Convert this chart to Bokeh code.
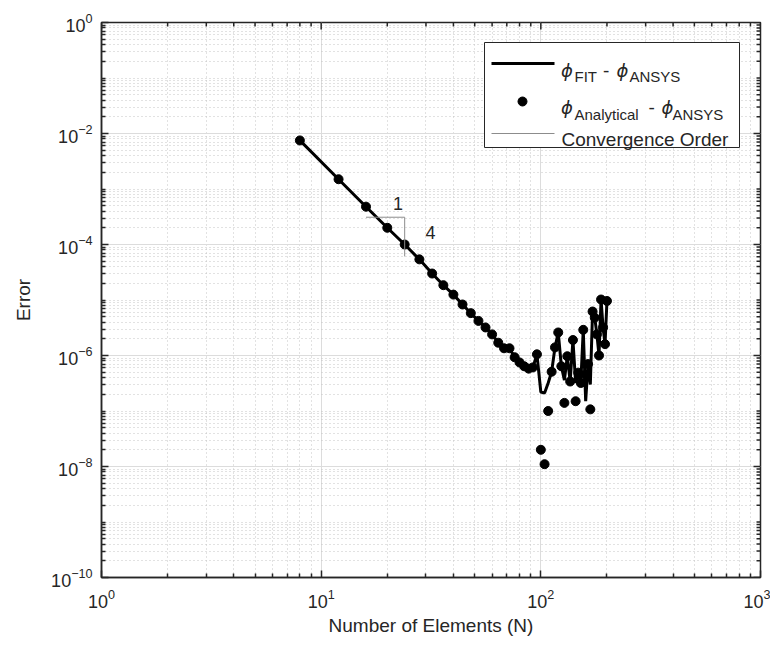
from bokeh.plotting import figure
from bokeh.models import Range1d, LinearScale, FixedTicker, ColumnDataSource
from bokeh.core.properties import value
from bokeh.embed import file_html
from bokeh.resources import INLINE

# ---- data ----
N = [8, 12, 16, 20, 24, 28, 32, 36, 40, 44, 48, 52, 56, 60, 64, 68, 72, 76, 80, 84, 88, 92, 96,
     100, 104, 108, 112, 116, 120, 124, 128, 132, 136, 140, 144, 148, 152, 156, 160, 164, 168,
     172, 176, 180, 184, 188, 192, 196, 200]
err_fit = [7.5e-3, 1.5e-3, 4.8e-4, 2.0e-4, 1.0e-4, 5.4e-5, 3.0e-5, 1.85e-5, 1.25e-5, 8.3e-6,
           5.8e-6, 4.2e-6, 3.2e-6, 2.4e-6, 1.7e-6, 1.35e-6, 1.35e-6, 9.3e-7, 7.5e-7, 6.4e-7,
           5.8e-7, 6.1e-7, 1.05e-6,
           2.2e-7, 2.1e-7, 3.2e-7, 5.1e-7, 1.4e-6, 2.6e-6, 6.4e-7, 3.6e-7, 9.7e-7, 3.4e-7,
           1.9e-6, 3.2e-7, 4.9e-7, 3.2e-7, 2.9e-6, 1.5e-7, 7.0e-7, 3.0e-7, 6.2e-6, 4.8e-6,
           2.4e-6, 1.0e-6, 1.02e-5, 3.2e-6, 1.6e-6, 9.6e-6]
err_analytical = [7.5e-3, 1.5e-3, 4.8e-4, 2.0e-4, 1.0e-4, 5.4e-5, 3.0e-5, 1.85e-5, 1.25e-5, 8.3e-6,
                  5.8e-6, 4.2e-6, 3.2e-6, 2.4e-6, 1.7e-6, 1.35e-6, 1.35e-6, 9.3e-7, 7.5e-7, 6.4e-7,
                  5.8e-7, 6.1e-7, 1.05e-6,
                  2.0e-8, 1.1e-8, 1.0e-7, 5.1e-7, 1.4e-6, 2.6e-6, 6.4e-7, 1.4e-7, 9.7e-7, 3.4e-7,
                  1.9e-6, 1.5e-7, 4.9e-7, 3.2e-7, 2.9e-6, 4.5e-7, 7.0e-7, 1.07e-7, 6.2e-6, 4.8e-6,
                  2.4e-6, 1.0e-6, 1.02e-5, 3.2e-6, 1.6e-6, 9.6e-6]
order_x = [16, 24, 24]
order_y = [3.1e-4, 3.1e-4, 6.1e-5]
x_ticks = [1, 10, 100, 1000]
y_ticks = [1e-10, 1e-8, 1e-6, 1e-4, 1e-2, 1]
x_minor = [k * 10.0 ** e for e in range(0, 3) for k in range(2, 10)]
y_minor = [k * 10.0 ** e for e in range(-10, 0) for k in range(1, 10) if not (k == 1 and e % 2 == 0)]

FONT = "Liberation Sans"
TXT = "#262626"
FW, FH = 659, 555

p = figure(frame_width=FW, frame_height=FH, x_axis_type="log", y_axis_type="log",
           x_range=Range1d(1, 1000), y_range=Range1d(1e-10, 1),
           output_backend="svg", toolbar_location=None,
           min_border_left=101, min_border_right=10, min_border_top=22, min_border_bottom=64,
           background_fill_color="white", border_fill_color="white")
p.outline_line_color = TXT
p.outline_line_width = 1.5

xax = p.below[0]
yax = p.left[0]
xax.ticker = FixedTicker(ticks=x_ticks, minor_ticks=x_minor)
yax.ticker = FixedTicker(ticks=y_ticks, minor_ticks=y_minor)

for ax in [xax, yax]:
    ax.axis_line_color = TXT
    ax.axis_line_width = 1.5
    ax.major_tick_in = 7
    ax.major_tick_out = 0
    ax.minor_tick_in = 4
    ax.minor_tick_out = 0
    ax.major_tick_line_color = TXT
    ax.major_tick_line_width = 1.5
    ax.minor_tick_line_color = TXT
    ax.minor_tick_line_width = 1.5
    ax.major_label_text_font = FONT
    ax.major_label_text_font_size = "18px"
    ax.major_label_text_color = TXT
    ax.axis_label_text_font = FONT
    ax.axis_label_text_font_size = "19px"
    ax.axis_label_text_font_style = "normal"
    ax.axis_label_text_color = TXT

xax.axis_label = "Number of Elements (N)"
yax.axis_label = "Error"
xax.major_label_standoff = 11
yax.major_label_standoff = 9
xax.axis_label_standoff = 4
yax.axis_label_standoff = 14

for g in [p.xgrid[0], p.ygrid[0]]:
    g.grid_line_color = "#dcdcdc"
    g.grid_line_width = 1
    g.minor_grid_line_color = "#c4c4c4"
    g.minor_grid_line_width = 1
    g.minor_grid_line_dash = "1 3"

# pixel-space helpers for box ticks, legend and annotations
p.extra_x_ranges = {"px": Range1d(0, FW)}
p.extra_y_ranges = {"py": Range1d(0, FH)}
p.extra_x_scales = {"px": LinearScale()}
p.extra_y_scales = {"py": LinearScale()}
PX = dict(x_range_name="px", y_range_name="py")

# inward ticks on the top and right edges (box on)
for ticks, ln in [(x_ticks, 7), (x_minor, 4)]:
    p.segment(x0=ticks, x1=ticks, y0=[FH] * len(ticks), y1=[FH - ln] * len(ticks),
              line_color=TXT, line_width=1.5, y_range_name="py")
for ticks, ln in [(y_ticks, 7), (y_minor, 4)]:
    p.segment(y0=ticks, y1=ticks, x0=[FW] * len(ticks), x1=[FW - ln] * len(ticks),
              line_color=TXT, line_width=1.5, x_range_name="px")

src = ColumnDataSource(dict(N=N, fit=err_fit, ana=err_analytical))
p.line("N", "fit", source=src, line_color="black", line_width=3)
p.scatter("N", "ana", source=src, size=9, fill_color="black", line_color="black")
p.line(order_x, order_y, line_color="#8c8c8c", line_width=1)


def txt(x, y, s, size, style="normal", font=FONT, align="left", baseline="alphabetic"):
    p.text(x=[x], y=[y], text=[s], text_font=value(font), text_font_size=size,
           text_font_style=style, text_color=TXT, text_align=align, text_baseline=baseline, **PX)


# convergence triangle labels
txt(296.5, 374.5, "1", "18px", align="center", baseline="middle")
txt(329, 345.5, "4", "18px", align="center", baseline="middle")

# legend box
p.quad(left=[383], right=[638], bottom=[430], top=[535], fill_color="white",
       line_color=TXT, line_width=1, **PX)
p.line([390, 453], [514, 514], line_color="black", line_width=3, **PX)
p.scatter([421], [476], size=9, fill_color="black", line_color="black", **PX)
p.line([390, 453], [444, 444], line_color="#8c8c8c", line_width=1, **PX)

PHI = "\u03d5"
txt(459.5, 507, PHI, "18px", style="italic", font="DejaVu Sans")
txt(473, 501, "FIT", "15px")
txt(501.5, 507, "-", "19px")
txt(515, 507, PHI, "18px", style="italic", font="DejaVu Sans")
txt(528, 501, "ANSYS", "15px")

txt(459.5, 470, PHI, "18px", style="italic", font="DejaVu Sans")
txt(473, 463.5, "Analytical", "15px")
txt(547, 470, "-", "19px")
txt(560, 470, PHI, "18px", style="italic", font="DejaVu Sans")
txt(571, 463.5, "ANSYS", "15px")

txt(460, 438, "Convergence Order", "19px")

open("out.html", "w").write(file_html(p, INLINE))
